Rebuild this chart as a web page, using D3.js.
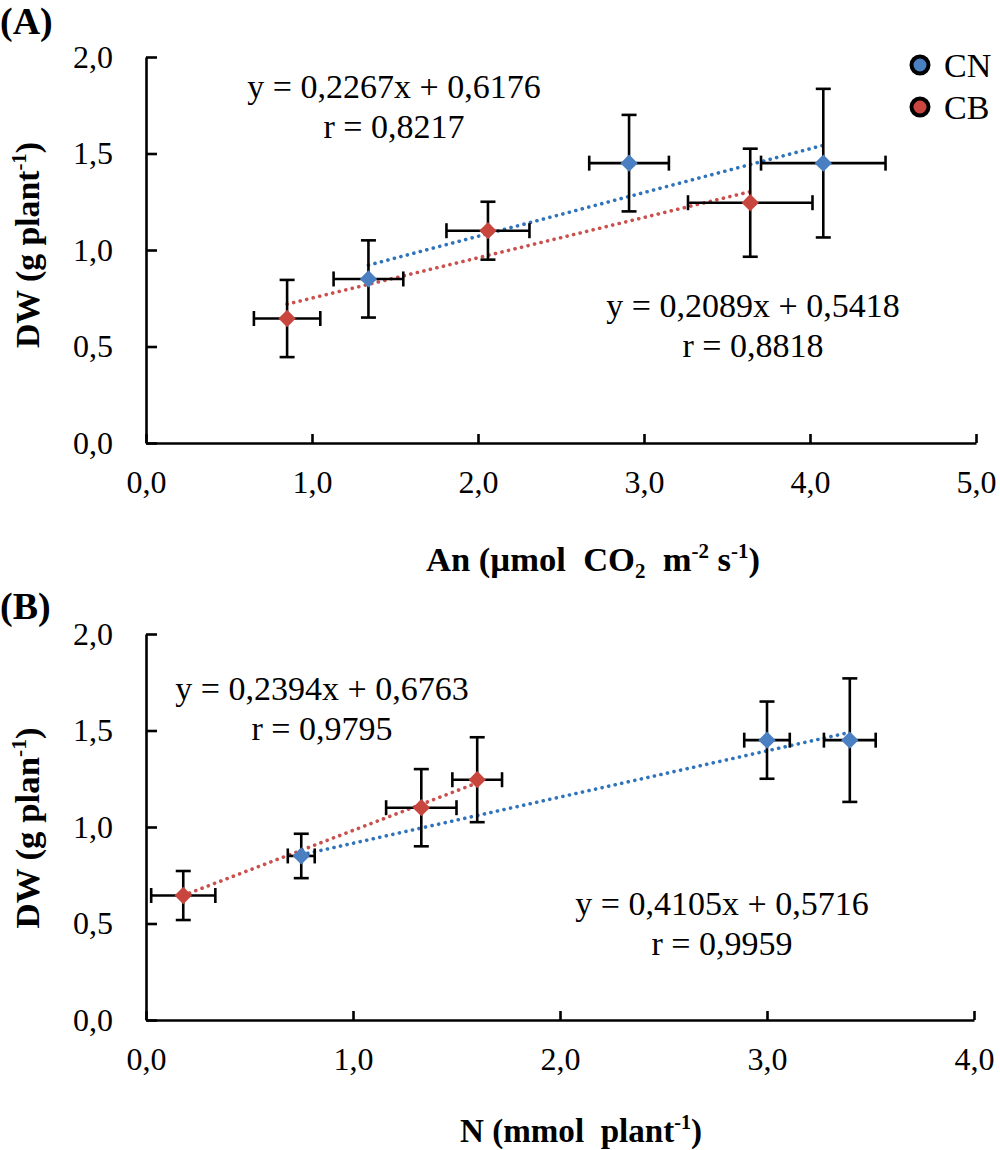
<!DOCTYPE html>
<html>
<head>
<meta charset="utf-8">
<script src="https://cdn.jsdelivr.net/npm/d3@7"></script>
<style>
  body { margin: 0; background: #fff; }
  svg { font-family: "Liberation Serif", "Times New Roman", serif; }
</style>
</head>
<body>
<div id="chart"></div>
<script>
// ---- data ----
const seriesNames = ["CN", "CB"];
const seriesColors = ["#4a7fc1", "#c9463f"];
const trendColors = ["#2f74ba", "#c9504d"];

// Panel A: DW vs An
const anCN = [1.34, 2.91, 4.08];
const anCNErr = [0.21, 0.24, 0.375];
const dwACN = [0.85, 1.45, 1.45];
const dwACNErr = [0.2, 0.25, 0.385];
const anCB = [0.85, 2.06, 3.64];
const anCBErr = [0.2, 0.25, 0.375];
const dwACB = [0.645, 1.10, 1.245];
const dwACBErr = [0.2, 0.15, 0.28];
const trendA = [[0.2267, 0.6176], [0.2089, 0.5418]];
const eqA = [["y = 0,2267x + 0,6176", "r = 0,8217"], ["y = 0,2089x + 0,5418", "r = 0,8818"]];
const xTicksA = [0, 1, 2, 3, 4, 5];

// Panel B: DW vs N
const nCN = [0.75, 3.0, 3.40];
const nCNErr = [0.065, 0.11, 0.125];
const dwBCN = [0.85, 1.45, 1.45];
const dwBCNErr = [0.115, 0.2, 0.32];
const nCB = [0.18, 1.33, 1.60];
const nCBErr = [0.155, 0.17, 0.12];
const dwBCB = [0.645, 1.10, 1.245];
const dwBCBErr = [0.127, 0.2, 0.22];
const trendB = [[0.2394, 0.6763], [0.4105, 0.5716]];
const eqB = [["y = 0,2394x + 0,6763", "r = 0,9795"], ["y = 0,4105x + 0,5716", "r = 0,9959"]];
const xTicksB = [0, 1, 2, 3, 4];

const yTicks = [0, 0.5, 1, 1.5, 2];

const locale = d3.formatLocale({decimal: ",", thousands: ".", grouping: [3], currency: ["", ""]});
const fmt = locale.format(".1f");

const svg = d3.select("#chart").append("svg")
    .attr("width", 1000)
    .attr("height", 1150);

function buildSeries(xs, xe, ys, ye) {
    return xs.map((x, i) => ({x: x, xe: xe[i], y: ys[i], ye: ye[i]}));
}

function drawPanel(cfg) {
    const g = svg.append("g");
    const x = d3.scaleLinear().domain(cfg.xDomain).range([146, cfg.xRight]);
    const y = d3.scaleLinear().domain([0, 2]).range([cfg.yBottom, cfg.yBottom - 386]);

    // axes, ticks point inward
    const xAxis = g.append("g")
        .attr("transform", `translate(0,${cfg.yBottom})`)
        .call(d3.axisBottom(x).tickValues(cfg.xTicks).tickFormat(fmt)
            .tickSizeInner(-9).tickSizeOuter(0).tickPadding(27));
    const yAxis = g.append("g")
        .attr("transform", `translate(146,0)`)
        .call(d3.axisLeft(y).tickValues(yTicks).tickFormat(fmt)
            .tickSizeInner(-11).tickSizeOuter(0).tickPadding(33));
    [xAxis, yAxis].forEach(a => {
        a.selectAll("path, line").attr("stroke", "#000").attr("stroke-width", 2.6);
        a.selectAll("text").attr("font-size", 32).attr("fill", "#000")
            .attr("font-family", "Liberation Serif");
    });

    // trendlines
    const line = d3.line().x(d => x(d[0])).y(d => y(d[1]));
    cfg.series.forEach((s, i) => {
        const [m, b] = cfg.trend[i];
        const ext = d3.extent(s, d => d.x);
        g.append("path")
            .attr("d", line(ext.map(v => [v, m * v + b])))
            .attr("fill", "none")
            .attr("stroke", trendColors[i])
            .attr("stroke-width", 3.6)
            .attr("stroke-linecap", "round")
            .attr("stroke-dasharray", "0.1 6.6");
    });

    // error bars
    const cap = 7.5;
    cfg.series.forEach(s => {
        const eb = g.append("g").attr("stroke", "#000").attr("stroke-width", 2.6);
        s.forEach(d => {
            const cx = x(d.x), cy = y(d.y);
            const x0 = x(d.x - d.xe), x1 = x(d.x + d.xe);
            const y0 = y(d.y - d.ye), y1 = y(d.y + d.ye);
            eb.append("line").attr("x1", x0).attr("x2", x1).attr("y1", cy).attr("y2", cy);
            eb.append("line").attr("x1", x0).attr("x2", x0).attr("y1", cy - cap).attr("y2", cy + cap);
            eb.append("line").attr("x1", x1).attr("x2", x1).attr("y1", cy - cap).attr("y2", cy + cap);
            eb.append("line").attr("x1", cx).attr("x2", cx).attr("y1", y0).attr("y2", y1);
            eb.append("line").attr("x1", cx - cap).attr("x2", cx + cap).attr("y1", y0).attr("y2", y0);
            eb.append("line").attr("x1", cx - cap).attr("x2", cx + cap).attr("y1", y1).attr("y2", y1);
        });
    });

    // markers (square turned 45deg, like Excel diamonds)
    const diamond = d3.symbol(d3.symbolSquare, 150);
    cfg.series.forEach((s, i) => {
        g.selectAll(null).data(s).join("path")
            .attr("d", diamond)
            .attr("transform", d => `translate(${x(d.x)},${y(d.y)}) rotate(45)`)
            .attr("fill", seriesColors[i]);
    });

    // equations
    cfg.eq.forEach((lines, i) => {
        const pos = cfg.eqPos[i];
        lines.forEach((t, j) => {
            g.append("text")
                .attr("x", pos[0]).attr("y", pos[1] + j * 40)
                .attr("text-anchor", "middle")
                .attr("font-size", 34)
                .text(t);
        });
    });

    // panel label
    g.append("text")
        .attr("x", 0).attr("y", cfg.labelY)
        .attr("font-size", 38).attr("font-weight", "bold")
        .text(cfg.label);

    // y title
    const yt = g.append("text")
        .attr("transform", `translate(39,${cfg.yTitleY}) rotate(-90)`)
        .attr("text-anchor", "middle")
        .attr("font-size", 34).attr("font-weight", "bold")
        .attr("textLength", cfg.yTitleLen)
        .attr("lengthAdjust", "spacingAndGlyphs");
    yt.append("tspan").text(cfg.yTitle);
    yt.append("tspan").attr("font-size", 21).attr("dy", -13).text("-1");
    yt.append("tspan").attr("dy", 13).text(")");

    // x title
    const xt = g.append("text")
        .attr("x", cfg.xTitlePos[0]).attr("y", cfg.xTitlePos[1])
        .attr("text-anchor", "middle")
        .attr("font-size", 33).attr("font-weight", "bold")
        .attr("textLength", cfg.xTitleLen)
        .attr("lengthAdjust", "spacingAndGlyphs")
        .style("white-space", "pre");
    cfg.xTitle.forEach(p => {
        xt.append("tspan")
            .attr("font-size", p.s ? 20 : 33)
            .attr("dy", p.dy || 0)
            .text(p.t);
    });
}

drawPanel({
    label: "(A)", labelY: 34,
    xDomain: [0, 5], xRight: 976, xTicks: xTicksA, yBottom: 443,
    series: [buildSeries(anCN, anCNErr, dwACN, dwACNErr), buildSeries(anCB, anCBErr, dwACB, dwACBErr)],
    trend: trendA, eq: eqA, eqPos: [[394, 98], [753, 317]],
    yTitle: "DW (g plant", yTitleY: 245, yTitleLen: 206,
    xTitle: [{t: "An (µmol  CO"}, {t: "2", s: true, dy: 7}, {t: "  m", dy: -7},
             {t: "-2", s: true, dy: -13}, {t: " s", dy: 13}, {t: "-1", s: true, dy: -13}, {t: ")", dy: 13}],
    xTitlePos: [593, 571], xTitleLen: 334
});

drawPanel({
    label: "(B)", labelY: 619,
    xDomain: [0, 4], xRight: 974, xTicks: xTicksB, yBottom: 1020,
    series: [buildSeries(nCN, nCNErr, dwBCN, dwBCNErr), buildSeries(nCB, nCBErr, dwBCB, dwBCBErr)],
    trend: trendB, eq: eqB, eqPos: [[322, 700], [722, 915]],
    yTitle: "DW (g plan", yTitleY: 828, yTitleLen: 201,
    xTitle: [{t: "N (mmol  plant"}, {t: "-1", s: true, dy: -13}, {t: ")", dy: 13}],
    xTitlePos: [581, 1142], xTitleLen: 242
});

// legend
const legend = svg.append("g");
seriesNames.forEach((name, i) => {
    legend.append("circle")
        .attr("cx", 920).attr("cy", 65 + i * 42).attr("r", 8.5)
        .attr("fill", seriesColors[i])
        .attr("stroke", "#000").attr("stroke-width", 4);
    legend.append("text")
        .attr("x", 944).attr("y", 77 + i * 42)
        .attr("font-size", 34)
        .text(name);
});
</script>
</body>
</html>
